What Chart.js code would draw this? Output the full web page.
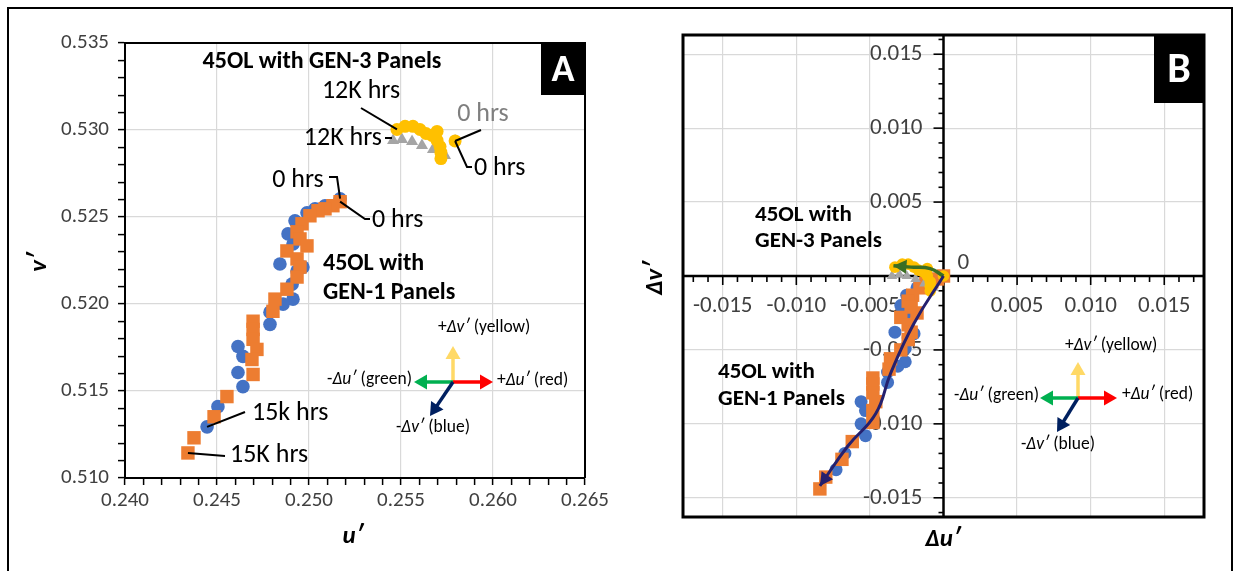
<!DOCTYPE html>
<html>
<head>
<meta charset="utf-8">
<script src="https://cdn.jsdelivr.net/npm/chart.js@4.4.1/dist/chart.umd.min.js"></script>
<style>
  html, body { margin: 0; padding: 0; background: #fff; }
  #wrap { position: relative; width: 1240px; height: 571px; overflow: hidden; }
  #frame { position: absolute; left: 7px; top: 7px; width: 1226px; height: 600px; border: 2px solid #000; box-sizing: border-box; }
  canvas { position: absolute; top: 0; }
</style>
</head>
<body>
<div id="wrap">
  <div id="frame"></div>
  <canvas id="chartA" width="620" height="571" style="left:0"></canvas>
  <canvas id="chartB" width="620" height="571" style="left:620px"></canvas>
</div>
<script>
const FONT = 'Carlito, Lato, "Open Sans", sans-serif';
const BLUE = '#4472C4', ORANGE = '#ED7D31', GRAY = '#A5A5A5', YELLOW = '#FFC000';
const TICK_COLOR = '#404040';

// ---- panel A : u' / v' ----
const aUTicks = [0.240, 0.245, 0.250, 0.255, 0.260, 0.265];
const aVTicks = [0.510, 0.515, 0.520, 0.525, 0.530, 0.535];

// 45OL GEN-1 (blue circles, orange squares), 0 hrs first
const aBlueU = [0.25169, 0.25087, 0.25033, 0.24989, 0.24924, 0.24886, 0.24913, 0.24842, 0.24935, 0.24967, 0.24908, 0.24913, 0.24859, 0.24788, 0.24788, 0.24614, 0.24641, 0.24614, 0.24641, 0.24505, 0.24446];
const aBlueV = [0.52605, 0.52565, 0.52547, 0.52524, 0.52478, 0.52403, 0.52345, 0.52230, 0.52189, 0.52212, 0.52114, 0.52028, 0.51999, 0.51953, 0.51883, 0.51756, 0.51699, 0.51606, 0.51525, 0.51410, 0.51294];
const aOrangeU = [0.25169, 0.25130, 0.25087, 0.25049, 0.25005, 0.24962, 0.24935, 0.24951, 0.24989, 0.24880, 0.24935, 0.24951, 0.24935, 0.24880, 0.24815, 0.24804, 0.24696, 0.24696, 0.24696, 0.24717, 0.24690, 0.24696, 0.24554, 0.24484, 0.24375, 0.24342];
const aOrangeV = [0.52588, 0.52565, 0.52547, 0.52536, 0.52507, 0.52461, 0.52415, 0.52374, 0.52334, 0.52305, 0.52259, 0.52212, 0.52155, 0.52085, 0.52028, 0.51958, 0.51901, 0.51854, 0.51797, 0.51739, 0.51681, 0.51595, 0.51468, 0.51352, 0.51231, 0.51144];
// 45OL GEN-3 (gray triangles, yellow circles), 12K hrs first, 0 hrs last
const aGrayU = [0.25457, 0.25505, 0.25560, 0.25614, 0.25674, 0.25739, 0.25794];
const aGrayV = [0.52940, 0.52946, 0.52934, 0.52911, 0.52888, 0.52853, 0.52937];
const aYellowU = [0.25478, 0.25522, 0.25565, 0.25603, 0.25636, 0.25669, 0.25696, 0.25696, 0.25712, 0.25717, 0.25717, 0.25794];
const aYellowV = [0.53003, 0.53021, 0.53021, 0.53003, 0.52980, 0.52969, 0.52992, 0.52940, 0.52905, 0.52871, 0.52836, 0.52937];

// ---- panel B : shift from 0 hrs ----
const bTicks = [-0.015, -0.010, -0.005, 0.005, 0.010, 0.015];
const bGrid = [-0.015, -0.010, -0.005, 0, 0.005, 0.010, 0.015];

const bBlueDU = [0, -0.0008, -0.0014, -0.0018, -0.0025, -0.0029, -0.0026, -0.0033, -0.0024, -0.0020, -0.0026, -0.0026, -0.0031, -0.0038, -0.0038, -0.0056, -0.0053, -0.0056, -0.0053, -0.0067, -0.0073];
const bBlueDV = [0, -0.0004, -0.0006, -0.0008, -0.0013, -0.0020, -0.0026, -0.0038, -0.0042, -0.0039, -0.0049, -0.0058, -0.0061, -0.0065, -0.0072, -0.0085, -0.0091, -0.0100, -0.0108, -0.0120, -0.0131];
const bOrangeDU = [0, -0.0004, -0.0008, -0.0012, -0.0016, -0.0021, -0.0024, -0.0022, -0.0018, -0.0029, -0.0024, -0.0022, -0.0024, -0.0029, -0.0036, -0.0037, -0.0048, -0.0048, -0.0048, -0.0046, -0.0048, -0.0048, -0.0062, -0.0069, -0.0080, -0.0084];
const bOrangeDV = [0, -0.0002, -0.0004, -0.0005, -0.0008, -0.0013, -0.0017, -0.0021, -0.0025, -0.0028, -0.0033, -0.0038, -0.0043, -0.0050, -0.0056, -0.0063, -0.0069, -0.0073, -0.0079, -0.0085, -0.0091, -0.0099, -0.0112, -0.0124, -0.0136, -0.0144];
const bGrayDU = [-0.0035, -0.0030, -0.0025, -0.0019, -0.0013, -0.0007, 0];
const bGrayDV = [0.0000, 0.0001, 0.0000, -0.0002, -0.0005, -0.0008, 0];
const bYellowDU = [-0.0033, -0.0028, -0.0024, -0.0020, -0.0017, -0.0014, -0.0011, -0.0011, -0.0009, -0.0009, -0.0009, 0];
const bYellowDV = [0.0006, 0.0008, 0.0008, 0.0006, 0.0004, 0.0003, 0.0005, 0.0000, -0.0004, -0.0007, -0.0010, 0];
// trend arrows
const bTrendDU = [0, -0.0020, -0.0036, -0.0046, -0.0065, -0.0084];
const bTrendDV = [0, -0.0032, -0.0066, -0.0093, -0.0115, -0.0142];
const bGreenDU = [0, -0.0009, -0.0022, -0.0034];
const bGreenDV = [0, 0.0005, 0.0006, 0.0007];

// ---------- helpers ----------
function pts(us, vs) { return us.map((u, i) => ({ x: u, y: vs[i] })); }

function minorTicks(min, max) {
  const out = [];
  for (let i = Math.ceil(min / 0.001 - 1e-6); i <= Math.floor(max / 0.001 + 1e-6); i++) {
    out.push(Math.round(i * 0.001 * 1e6) / 1e6);
  }
  return out;
}
function isMajor(v) { return Math.abs(v / 0.005 - Math.round(v / 0.005)) < 1e-6; }
function inList(v, list) { return list.some(t => Math.abs(t - v) < 1e-9); }

function scatterSet(label, data, color, style, r, order) {
  return {
    label, data, order,
    backgroundColor: color, borderColor: color, borderWidth: 0,
    pointStyle: style, pointRadius: r, pointHoverRadius: r,
  };
}

function text(ctx, s, x, y, opt) {
  ctx.save();
  ctx.font = `${opt.style || 'normal'} ${opt.weight || 'normal'} ${opt.size}px ${FONT}`;
  ctx.fillStyle = opt.color || '#000';
  ctx.textAlign = opt.align || 'left';
  ctx.textBaseline = 'middle';
  if (opt.rotate) {
    ctx.translate(x, y);
    ctx.rotate(opt.rotate);
    ctx.fillText(s, 0, 0);
  } else {
    ctx.fillText(s, x, y);
  }
  ctx.restore();
}

// text with italic pieces: parts = [[str, italic], ...]
function richText(ctx, parts, x, y, size, align) {
  ctx.save();
  ctx.textBaseline = 'middle';
  ctx.fillStyle = '#000';
  const fontOf = it => `${it ? 'italic' : 'normal'} normal ${size}px ${FONT}`;
  let total = 0;
  parts.forEach(p => { ctx.font = fontOf(p[1]); total += ctx.measureText(p[0]).width; });
  let cx = align === 'right' ? x - total : align === 'center' ? x - total / 2 : x;
  ctx.textAlign = 'left';
  parts.forEach(p => {
    ctx.font = fontOf(p[1]);
    ctx.fillText(p[0], cx, y);
    cx += ctx.measureText(p[0]).width;
  });
  ctx.restore();
}

function polyline(ctx, list, color, w) {
  ctx.save();
  ctx.strokeStyle = color;
  ctx.lineWidth = w;
  ctx.beginPath();
  list.forEach((p, i) => i ? ctx.lineTo(p[0], p[1]) : ctx.moveTo(p[0], p[1]));
  ctx.stroke();
  ctx.restore();
}

function arrowHead(ctx, x, y, ang, color, hl, hw) {
  const bx = x - hl * Math.cos(ang), by = y - hl * Math.sin(ang);
  ctx.save();
  ctx.fillStyle = color;
  ctx.beginPath();
  ctx.moveTo(x, y);
  ctx.lineTo(bx + hw * Math.sin(ang), by - hw * Math.cos(ang));
  ctx.lineTo(bx - hw * Math.sin(ang), by + hw * Math.cos(ang));
  ctx.closePath();
  ctx.fill();
  ctx.restore();
}

function arrow(ctx, x1, y1, x2, y2, color) {
  const ang = Math.atan2(y2 - y1, x2 - x1);
  const hl = 13;
  polyline(ctx, [[x1, y1], [x2 - hl * 0.8 * Math.cos(ang), y2 - hl * 0.8 * Math.sin(ang)]], color, 3.5);
  arrowHead(ctx, x2, y2, ang, color, hl, 7.5);
}

// legend of colour directions
function compass(ctx, c) {
  arrow(ctx, c.x, c.y, c.x, c.up, '#FFD966');
  arrow(ctx, c.x, c.y, c.right, c.y, '#FF0000');
  arrow(ctx, c.x, c.y, c.left, c.y, '#00B050');
  arrow(ctx, c.x, c.y, c.blue[0], c.blue[1], '#002060');
  const s = 17.5;
  richText(ctx, [['+', false], ['Δv′', true], [' (yellow)', false]], c.lblUp[0], c.lblUp[1], s, 'left');
  richText(ctx, [['-', false], ['Δu′', true], [' (green)', false]], c.lblLeft[0], c.lblLeft[1], s, 'right');
  richText(ctx, [['+', false], ['Δu′', true], [' (red)', false]], c.lblRight[0], c.lblRight[1], s, 'left');
  richText(ctx, [['-', false], ['Δv′', true], [' (blue)', false]], c.lblBlue[0], c.lblBlue[1], s, 'center');
}

function letterBox(ctx, x1, y1, x2, y2, ch, size) {
  ctx.save();
  ctx.fillStyle = '#000';
  ctx.fillRect(x1, y1, x2 - x1, y2 - y1);
  ctx.restore();
  text(ctx, ch, (x1 + x2) / 2, (y1 + y2) / 2 + 2, { size, weight: 'bold', color: '#fff', align: 'center' });
}

// ---------- panel A ----------
const annotA = {
  id: 'annotA',
  beforeDatasetsDraw(chart) {
    const { ctx, chartArea: a } = chart;
    polyline(ctx, [[a.left, a.top], [a.right, a.top], [a.right, a.bottom]], '#000', 2);
  },
  afterDatasetsDraw(chart) {
    const { ctx, chartArea: a, scales: { x, y } } = chart;
    const P = (u, v) => [x.getPixelForValue(u), y.getPixelForValue(v)];
    const lab = { size: 26 };
    const bold = { size: 24, weight: 'bold' };

    text(ctx, '45OL with GEN-3 Panels', 322, 62, Object.assign({ align: 'center' }, bold));
    text(ctx, '45OL with', 323, 264, bold);
    text(ctx, 'GEN-1 Panels', 323, 293, bold);

    // GEN-3 labels
    text(ctx, '12K hrs', 361, 91, Object.assign({ align: 'center' }, lab));
    polyline(ctx, [[361, 108], P(aYellowU[0], aYellowV[0])], '#000', 2);
    text(ctx, '12K hrs', 382, 138, Object.assign({ align: 'right' }, lab));
    polyline(ctx, [[385, 138], [392, 138]], '#000', 2);
    const y0 = P(aYellowU[aYellowU.length - 1], aYellowV[aYellowV.length - 1]);
    text(ctx, '0 hrs', 483, 114, Object.assign({ align: 'center', color: '#7F7F7F' }, lab));
    polyline(ctx, [[481, 130], y0], '#000', 2);
    text(ctx, '0 hrs', 474, 168, lab);
    polyline(ctx, [y0, [467, 167], [472, 167]], '#000', 2);

    // GEN-1 labels
    text(ctx, '0 hrs', 298, 180, Object.assign({ align: 'center' }, lab));
    polyline(ctx, [[329, 177], [337, 177], P(aBlueU[0], aBlueV[0])], '#000', 2);
    text(ctx, '0 hrs', 372, 220, lab);
    polyline(ctx, [P(aOrangeU[0], aOrangeV[0]), [365, 219], [370, 219]], '#000', 2);
    text(ctx, '15k hrs', 252, 413, lab);
    polyline(ctx, [[245, 412], P(aBlueU[aBlueU.length - 1], aBlueV[aBlueV.length - 1])], '#000', 2);
    text(ctx, '15K hrs', 230, 455, lab);
    polyline(ctx, [[225, 456], P(aOrangeU[aOrangeU.length - 1], aOrangeV[aOrangeV.length - 1])], '#000', 2);

    compass(ctx, { x: 453, y: 382, up: 346, right: 493, left: 414, blue: [430, 416],
      lblUp: [438, 328], lblLeft: [412, 380], lblRight: [497, 381], lblBlue: [433, 428] });

    letterBox(ctx, a.right - 44, a.top, a.right, a.top + 52, 'A', 38);

    text(ctx, 'v′', 40, 262, { size: 25, weight: 'bold', style: 'italic', align: 'center', rotate: -Math.PI / 2 });
    text(ctx, 'u′', 353, 537, { size: 25, weight: 'bold', style: 'italic', align: 'center' });
  }
};

new Chart(document.getElementById('chartA'), {
  type: 'scatter',
  data: {
    datasets: [
      scatterSet('GEN-3 yellow', pts(aYellowU, aYellowV), YELLOW, 'circle', 6.5, 1),
      scatterSet('GEN-3 gray', pts(aGrayU, aGrayV), GRAY, 'triangle', 7, 2),
      scatterSet('GEN-1 orange', pts(aOrangeU, aOrangeV), ORANGE, 'rect', 9.5, 3),
      scatterSet('GEN-1 blue', pts(aBlueU, aBlueV), BLUE, 'circle', 6.8, 4),
    ]
  },
  options: {
    responsive: false,
    animation: false,
    devicePixelRatio: 1,
    layout: { padding: { left: 0, top: 43, right: 35, bottom: 0 } },
    plugins: { legend: { display: false }, tooltip: { enabled: false } },
    scales: {
      x: {
        type: 'linear',
        min: aUTicks[0], max: aUTicks[aUTicks.length - 1],
        afterBuildTicks: s => { s.ticks = minorTicks(s.min, s.max).map(v => ({ value: v })); },
        afterFit: s => { s.height = 93; },
        ticks: {
          autoSkip: false, maxRotation: 0, minRotation: 0, padding: 3,
          color: TICK_COLOR, font: { family: FONT, size: 21 },
          callback: v => inList(v, aUTicks) ? v.toFixed(3) : ''
        },
        grid: {
          color: c => (c.tick && isMajor(c.tick.value)) ? '#D9D9D9' : 'rgba(0,0,0,0)',
          lineWidth: 1.2, tickColor: '#000', tickLength: 7, tickWidth: 1.5
        },
        border: { color: '#000', width: 2 }
      },
      y: {
        type: 'linear',
        min: aVTicks[0], max: aVTicks[aVTicks.length - 1],
        afterBuildTicks: s => { s.ticks = minorTicks(s.min, s.max).map(v => ({ value: v })); },
        afterFit: s => { s.width = 125; },
        ticks: {
          autoSkip: false, padding: 9,
          color: TICK_COLOR, font: { family: FONT, size: 21 },
          callback: v => inList(v, aVTicks) ? v.toFixed(3) : ''
        },
        grid: {
          color: c => (c.tick && isMajor(c.tick.value)) ? '#D9D9D9' : 'rgba(0,0,0,0)',
          lineWidth: 1.2, tickColor: '#000', tickLength: 7, tickWidth: 1.5
        },
        border: { color: '#000', width: 2 }
      }
    }
  },
  plugins: [annotA]
});

// ---------- panel B ----------
const axesB = {
  id: 'axesB',
  beforeDatasetsDraw(chart) {
    const { ctx, chartArea: a, scales: { x, y } } = chart;
    const x0 = x.getPixelForValue(0), y0 = y.getPixelForValue(0);
    polyline(ctx, [[a.left, y0], [a.right, y0]], '#000', 2.5);
    polyline(ctx, [[x0, a.top], [x0, a.bottom]], '#000', 2.5);
    minorTicks(x.min, x.max).forEach(v => {
      const px = x.getPixelForValue(v);
      polyline(ctx, [[px, y0], [px, y0 + (isMajor(v) ? 9 : 6)]], '#000', 1.6);
    });
    minorTicks(y.min, y.max).forEach(v => {
      const py = y.getPixelForValue(v);
      polyline(ctx, [[x0, py], [x0 - (isMajor(v) ? 10 : 5), py]], '#000', 1.6);
    });
    const f = { size: 23, color: TICK_COLOR };
    bTicks.forEach(v => {
      text(ctx, v.toFixed(3), x.getPixelForValue(v), y0 + 30, Object.assign({ align: 'center' }, f));
      text(ctx, v.toFixed(3), x0 - 21, y.getPixelForValue(v), Object.assign({ align: 'right' }, f));
    });
    text(ctx, '0', x0 + 14, y0 - 13, f);
  },
  afterDatasetsDraw(chart) {
    const { ctx, chartArea: a } = chart;
    // arrow heads on the trend lines
    [[0, '#25206E'], [1, '#3A6E23']].forEach(([i, col]) => {
      const m = chart.getDatasetMeta(i).data;
      const last = m[m.length - 1];
      let px = last.cp1x, py = last.cp1y;
      if (px === undefined || (Math.abs(px - last.x) < 0.5 && Math.abs(py - last.y) < 0.5)) {
        px = m[m.length - 2].x; py = m[m.length - 2].y;
      }
      arrowHead(ctx, last.x, last.y, Math.atan2(last.y - py, last.x - px), col, 13, 7);
    });

    ctx.save();
    ctx.strokeStyle = '#000';
    ctx.lineWidth = 3;
    ctx.strokeRect(a.left, a.top, a.right - a.left, a.bottom - a.top);
    ctx.restore();

    const bold = { size: 23, weight: 'bold' };
    text(ctx, '45OL with', 135, 215, bold);
    text(ctx, 'GEN-3 Panels', 135, 241, bold);
    text(ctx, '45OL with', 98, 372, bold);
    text(ctx, 'GEN-1 Panels', 98, 399, bold);

    compass(ctx, { x: 458, y: 398, up: 362, right: 497, left: 420, blue: [437, 432],
      lblUp: [445, 346], lblLeft: [419, 396], lblRight: [502, 395], lblBlue: [438, 445] });

    letterBox(ctx, a.right - 50, a.top, a.right, a.top + 68, 'B', 42);

    text(ctx, 'Δv′', 36, 278, { size: 25, weight: 'bold', style: 'italic', align: 'center', rotate: -Math.PI / 2 });
    text(ctx, 'Δu′', 323, 540, { size: 25, weight: 'bold', style: 'italic', align: 'center' });
  }
};

const gridB = {
  color: '#D9D9D9', lineWidth: 1.2, drawTicks: false
};

new Chart(document.getElementById('chartB'), {
  type: 'scatter',
  data: {
    datasets: [
      { label: 'GEN-1 trend', data: pts(bTrendDU, bTrendDV), order: 0, showLine: true, tension: 0.45,
        borderColor: '#25206E', borderWidth: 3, pointRadius: 0, fill: false },
      { label: 'GEN-3 trend', data: pts(bGreenDU, bGreenDV), order: 0, showLine: true, tension: 0.45,
        borderColor: '#3A6E23', borderWidth: 3.5, pointRadius: 0, fill: false },
      scatterSet('GEN-3 yellow', pts(bYellowDU, bYellowDV), YELLOW, 'circle', 5.8, 1),
      scatterSet('GEN-3 gray', pts(bGrayDU, bGrayDV), GRAY, 'triangle', 6, 2),
      scatterSet('GEN-1 orange', pts(bOrangeDU, bOrangeDV), ORANGE, 'rect', 9.5, 3),
      scatterSet('GEN-1 blue', pts(bBlueDU, bBlueDV), BLUE, 'circle', 6.5, 4),
    ]
  },
  options: {
    responsive: false,
    animation: false,
    devicePixelRatio: 1,
    layout: { padding: { left: 63, top: 35, right: 36, bottom: 54 } },
    plugins: { legend: { display: false }, tooltip: { enabled: false } },
    scales: {
      x: {
        type: 'linear', min: -0.0177, max: 0.0177,
        afterBuildTicks: s => { s.ticks = bGrid.map(v => ({ value: v })); },
        afterFit: s => { s.height = 0; },
        ticks: { display: false },
        grid: gridB,
        border: { display: false }
      },
      y: {
        type: 'linear', min: -0.0163, max: 0.0163,
        afterBuildTicks: s => { s.ticks = bGrid.map(v => ({ value: v })); },
        afterFit: s => { s.width = 0; },
        ticks: { display: false },
        grid: gridB,
        border: { display: false }
      }
    }
  },
  plugins: [axesB]
});
</script>
</body>
</html>
